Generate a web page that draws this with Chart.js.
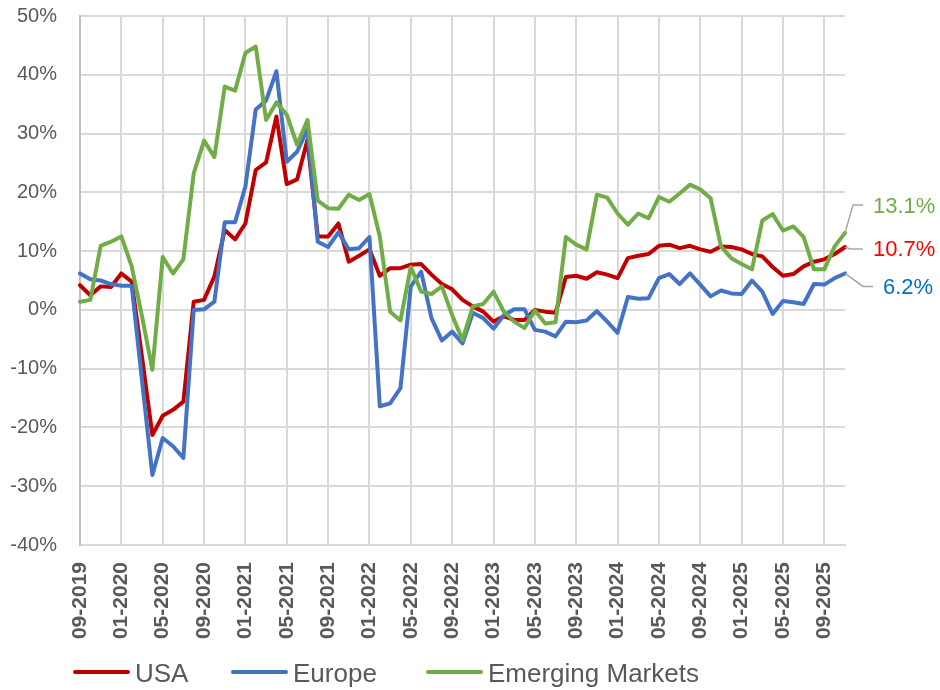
<!DOCTYPE html>
<html>
<head>
<meta charset="utf-8">
<script src="https://cdn.jsdelivr.net/npm/chart.js@4/dist/chart.umd.min.js"></script>
<style>
  html, body { margin: 0; padding: 0; background: #ffffff; }
  #wrap { width: 940px; height: 690px; }
</style>
</head>
<body>
<div id="wrap"><canvas id="c" width="940" height="690"></canvas></div>
<script>
const months = [
  "09-2019","10-2019","11-2019","12-2019",
  "01-2020","02-2020","03-2020","04-2020","05-2020","06-2020","07-2020","08-2020","09-2020","10-2020","11-2020","12-2020",
  "01-2021","02-2021","03-2021","04-2021","05-2021","06-2021","07-2021","08-2021","09-2021","10-2021","11-2021","12-2021",
  "01-2022","02-2022","03-2022","04-2022","05-2022","06-2022","07-2022","08-2022","09-2022","10-2022","11-2022","12-2022",
  "01-2023","02-2023","03-2023","04-2023","05-2023","06-2023","07-2023","08-2023","09-2023","10-2023","11-2023","12-2023",
  "01-2024","02-2024","03-2024","04-2024","05-2024","06-2024","07-2024","08-2024","09-2024","10-2024","11-2024","12-2024",
  "01-2025","02-2025","03-2025","04-2025","05-2025","06-2025","07-2025","08-2025","09-2025","10-2025","11-2025"
];

const seriesNames = ["USA", "Europe", "Emerging Markets"];

const usa = [
  4.2, 2.5, 4.0, 3.9,
  6.2, 4.8, -8.0, -21.3, -18.0, -17.0, -15.6, 1.4, 1.7, 5.7, 13.6, 12.0,
  14.7, 23.8, 25.1, 32.9, 21.4, 22.2, 28.9, 12.5, 12.5, 14.7, 8.2, 9.2,
  10.3, 5.8, 7.1, 7.1, 7.7, 7.8, 6.0, 4.4, 3.5, 1.7, 0.6, -0.3,
  -2.0, -1.1, -1.7, -1.7, 0.0, -0.3, -0.5, 5.6, 5.8, 5.3, 6.4, 6.0,
  5.4, 8.8, 9.2, 9.5, 10.9, 11.1, 10.5, 10.9, 10.3, 9.9, 10.8, 10.7,
  10.3, 9.5, 9.1, 7.3, 5.8, 6.1, 7.4, 8.2, 8.6, 9.5, 10.7
];

const europe = [
  6.2, 5.2, 5.0, 4.4,
  4.1, 4.1, -12.0, -28.1, -21.8, -23.2, -25.2, 0.0, 0.1, 1.4, 14.9, 14.9,
  21.0, 34.1, 35.6, 40.6, 25.2, 26.9, 30.7, 11.6, 10.7, 13.2, 10.3, 10.5,
  12.4, -16.4, -15.9, -13.3, 4.0, 6.5, -1.4, -5.2, -3.7, -5.7, -0.5, -1.4,
  -3.2, -0.9, 0.1, 0.1, -3.4, -3.7, -4.5, -2.0, -2.1, -1.8, -0.2, -2.0,
  -3.9, 2.2, 1.9, 2.0, 5.4, 6.1, 4.4, 6.2, 4.3, 2.3, 3.3, 2.8,
  2.7, 5.0, 3.1, -0.7, 1.5, 1.3, 1.0, 4.4, 4.3, 5.4, 6.2
];

const emerging = [
  1.4, 1.7, 10.9, 11.6,
  12.5, 7.4, -1.1, -10.2, 9.0, 6.2, 8.6, 23.2, 28.8, 26.0, 38.0, 37.3,
  43.7, 44.8, 32.3, 35.3, 33.2, 28.1, 32.3, 18.6, 17.3, 17.2, 19.6, 18.7,
  19.7, 12.5, -0.3, -1.8, 7.3, 3.1, 2.7, 4.0, -0.9, -5.1, 0.6, 1.0,
  3.1, -0.3, -2.0, -3.1, -0.1, -2.3, -2.1, 12.4, 11.1, 10.3, 19.6, 19.1,
  16.4, 14.5, 16.4, 15.6, 19.2, 18.4, 19.8, 21.3, 20.5, 19.0, 10.8, 8.8,
  7.8, 6.9, 15.2, 16.3, 13.5, 14.2, 12.4, 6.9, 6.9, 10.8, 13.1
];

const yTicks = [-40, -30, -20, -10, 0, 10, 20, 30, 40, 50];

const lineColors = ["#C00000", "#4472C4", "#70AD47"];
const labelColors = ["#FF0000", "#0070C0", "#70AD47"];
const FONT = "'Liberation Sans', Arial, sans-serif";

// end-label layout offsets (pixels, relative to the last point)
const endLabelLayout = [
  { mx: 5, my: 2, ex: 18, ey: 2, ty: 3 },
  { mx: 18, my: 13, ex: 28, ey: 13, ty: 14 },
  { mx: 8, my: -28, ex: 18, ey: -28, ty: -26 }
];
const legendX = [75, 233, 428];

const endLabels = {
  id: 'endLabels',
  afterDatasetsDraw(chart) {
    const ctx = chart.ctx;
    const xs = chart.scales.x, ys = chart.scales.y;
    chart.data.datasets.forEach((ds, i) => {
      const last = ds.data.length - 1;
      const px = xs.getPixelForValue(last);
      const py = ys.getPixelForValue(ds.data[last]);
      const L = endLabelLayout[i];
      ctx.save();
      ctx.strokeStyle = '#A6A6A6';
      ctx.lineWidth = 1.5;
      ctx.beginPath();
      ctx.moveTo(px, py);
      ctx.lineTo(px + L.mx, py + L.my);
      ctx.lineTo(px + L.ex, py + L.ey);
      ctx.stroke();
      ctx.fillStyle = labelColors[i];
      ctx.font = '22px ' + FONT;
      ctx.textAlign = 'left';
      ctx.textBaseline = 'middle';
      ctx.fillText(ds.data[last].toFixed(1) + '%', px + L.ex + 10, py + L.ty);
      ctx.restore();
    });
  },
  afterDraw(chart) {
    const ctx = chart.ctx;
    chart.data.datasets.forEach((ds, i) => {
      const x = legendX[i];
      ctx.save();
      ctx.strokeStyle = ds.borderColor;
      ctx.lineWidth = 4;
      ctx.lineCap = 'round';
      ctx.beginPath();
      ctx.moveTo(x, 672);
      ctx.lineTo(x + 53, 672);
      ctx.stroke();
      ctx.fillStyle = '#595959';
      ctx.font = '26px ' + FONT;
      ctx.textAlign = 'left';
      ctx.textBaseline = 'alphabetic';
      ctx.fillText(ds.label, x + 60, 682);
      ctx.restore();
    });
  }
};

const data = {
  labels: months,
  datasets: [
    { label: seriesNames[0], data: usa, borderColor: lineColors[0], backgroundColor: lineColors[0], order: 3 },
    { label: seriesNames[1], data: europe, borderColor: lineColors[1], backgroundColor: lineColors[1], order: 2 },
    { label: seriesNames[2], data: emerging, borderColor: lineColors[2], backgroundColor: lineColors[2], order: 1 }
  ].map(d => Object.assign(d, {
    borderWidth: 4, pointRadius: 0, pointHoverRadius: 0, tension: 0,
    borderJoinStyle: 'round', borderCapStyle: 'round', fill: false
  }))
};

new Chart(document.getElementById('c'), {
  type: 'line',
  data,
  plugins: [endLabels],
  options: {
    responsive: false,
    animation: false,
    events: [],
    layout: { padding: { left: 10, right: 95, top: 16, bottom: 45 } },
    plugins: { legend: { display: false }, tooltip: { enabled: false } },
    scales: {
      x: {
        type: 'category',
        offset: false,
        grid: {
          drawTicks: false,
          lineWidth: 2,
          color: (c) => (c.index % 4 === 0 && c.index !== 0) ? '#D9D9D9' : 'rgba(0,0,0,0)'
        },
        border: { display: true, color: '#D9D9D9', width: 2 },
        ticks: {
          autoSkip: false,
          maxRotation: 90,
          minRotation: 90,
          padding: 17,
          color: '#595959',
          font: { family: FONT, size: 21, weight: 'bold' },
          callback: function (v, i) { return i % 4 === 0 ? months[i] : ''; }
        },
        afterFit: (s) => { s.height = 100; s.paddingLeft = 0; s.paddingRight = 0; }
      },
      y: {
        min: yTicks[0],
        max: yTicks[yTicks.length - 1],
        grid: { drawTicks: false, color: '#D9D9D9', lineWidth: 2 },
        border: { display: true, color: '#BFBFBF', width: 2 },
        afterBuildTicks: (s) => { s.ticks = yTicks.map(v => ({ value: v })); },
        ticks: {
          padding: 23,
          color: '#595959',
          font: { family: FONT, size: 20 },
          callback: (v) => v + '%'
        },
        afterFit: (s) => { s.width = 70; s.paddingTop = 0; s.paddingBottom = 0; }
      }
    }
  }
});
</script>
</body>
</html>
